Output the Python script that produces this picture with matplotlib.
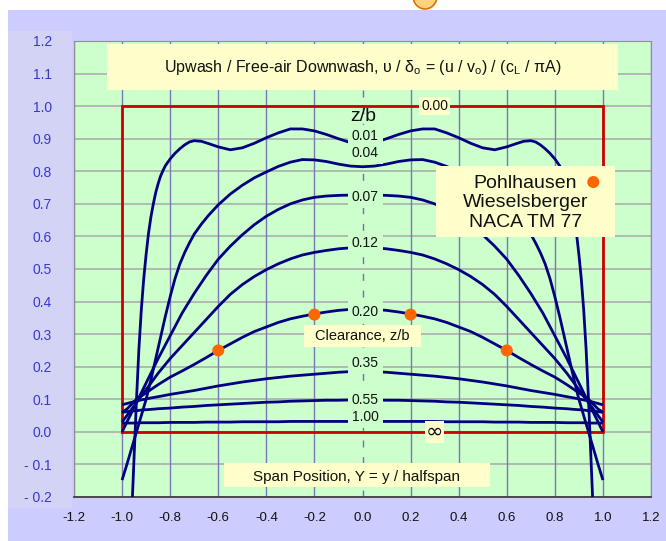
import numpy as np
import matplotlib
matplotlib.use("Agg")
import matplotlib.pyplot as plt
from matplotlib.patches import Rectangle, Ellipse

plt.rcParams['font.family'] = ['Liberation Sans', 'DejaVu Sans']
plt.rcParams['mathtext.fontset'] = 'custom'
plt.rcParams['mathtext.rm'] = 'Liberation Sans'
plt.rcParams['mathtext.it'] = 'Liberation Sans:italic'

nan = np.nan

# span positions (Y = y / halfspan)
span = [-1.0, -0.98, -0.96, -0.94, -0.92, -0.90, -0.88, -0.85, -0.80, -0.75, -0.70, -0.65,
        -0.60, -0.55, -0.50, -0.45, -0.40, -0.35, -0.30, -0.25, -0.20, -0.15, -0.10, -0.05,
        0.0, 0.05, 0.10, 0.15, 0.20, 0.25, 0.30, 0.35, 0.40, 0.45, 0.50, 0.55, 0.60, 0.65,
        0.70, 0.75, 0.80, 0.85, 0.88, 0.90, 0.92, 0.94, 0.96, 0.98, 1.0]

# z/b = 0.01 and 0.04 are steep near the tips, read on a finer span list
span_001 = [-0.957, -0.95, -0.94, -0.93, -0.92, -0.91, -0.90, -0.89, -0.88, -0.87, -0.86, -0.85,
            -0.84, -0.83, -0.82, -0.80, -0.78, -0.76, -0.74, -0.72, -0.70, -0.67, -0.64, -0.60,
            -0.55, -0.50, -0.45, -0.40, -0.35, -0.30, -0.25, -0.20, -0.15, -0.10, -0.05, 0.0,
            0.05, 0.10, 0.15, 0.20, 0.25, 0.30, 0.35, 0.40, 0.45, 0.50, 0.55, 0.60, 0.64, 0.67,
            0.70, 0.72, 0.74, 0.76, 0.78, 0.80, 0.82, 0.83, 0.84, 0.85, 0.86, 0.87, 0.88, 0.89,
            0.90, 0.91, 0.92, 0.93, 0.94, 0.95, 0.957]
zb_001 = [-0.20, -0.076, 0.10, 0.255, 0.375, 0.47, 0.545, 0.61, 0.66, 0.70, 0.735, 0.762,
          0.785, 0.802, 0.817, 0.838, 0.855, 0.869, 0.881, 0.89, 0.894, 0.892, 0.885, 0.875,
          0.866, 0.872, 0.886, 0.903, 0.918, 0.93, 0.93, 0.924, 0.913, 0.90, 0.888, 0.882,
          0.888, 0.90, 0.913, 0.924, 0.93, 0.93, 0.918, 0.903, 0.886, 0.872, 0.866, 0.875, 0.885, 0.892,
          0.894, 0.89, 0.881, 0.869, 0.855, 0.838, 0.817, 0.802, 0.785, 0.762, 0.735, 0.70, 0.66, 0.61,
          0.545, 0.47, 0.375, 0.255, 0.10, -0.076, -0.20]

span_004 = [-1.0, -0.98, -0.96, -0.94, -0.92, -0.90, -0.88, -0.86, -0.84, -0.82, -0.80, -0.78,
            -0.76, -0.74, -0.72, -0.70, -0.67, -0.64, -0.60, -0.55, -0.50, -0.45, -0.40, -0.35,
            -0.30, -0.25, -0.20, -0.15, -0.10, -0.05, 0.0,
            0.05, 0.10, 0.15, 0.20, 0.25, 0.30, 0.35, 0.40, 0.45, 0.50, 0.55, 0.60, 0.64, 0.67,
            0.70, 0.72, 0.74, 0.76, 0.78, 0.80, 0.82, 0.84, 0.86, 0.88, 0.90, 0.92, 0.94, 0.96,
            0.98, 1.0]
zb_004 = [-0.148, -0.10, -0.05, 0.0, 0.05, 0.10, 0.16, 0.225, 0.29, 0.355, 0.415, 0.47,
          0.515, 0.55, 0.58, 0.607, 0.638, 0.665, 0.697, 0.73, 0.757, 0.78, 0.798, 0.815,
          0.828, 0.836, 0.835, 0.83, 0.822, 0.816, 0.814,
          0.816, 0.822, 0.83, 0.835, 0.836, 0.828, 0.815, 0.798, 0.78, 0.757, 0.73, 0.697, 0.665, 0.638,
          0.607, 0.58, 0.55, 0.515, 0.47, 0.415, 0.355, 0.29, 0.225, 0.16, 0.10, 0.05, 0.0, -0.05,
          -0.10, -0.148]

zb_007 = [0.0, 0.03, 0.06, 0.09, 0.12, 0.15, 0.18, 0.225, 0.295, 0.365, 0.425, 0.48, 0.53,
          0.57, 0.605, 0.636, 0.662, 0.683, 0.70, 0.712, 0.72, 0.724, 0.726, 0.727, 0.727,
          0.727, 0.726, 0.724, 0.72, 0.712, 0.70, 0.683, 0.662, 0.636, 0.605, 0.57, 0.53,
          0.48, 0.425, 0.365, 0.295, 0.225, 0.18, 0.15, 0.12, 0.09, 0.06, 0.03, 0.0]
zb_012 = [0.03, 0.05, 0.07, 0.09, 0.11, 0.13, 0.15, 0.18, 0.225, 0.265, 0.305, 0.345, 0.385,
          0.422, 0.452, 0.477, 0.498, 0.516, 0.531, 0.543, 0.551, 0.557, 0.562, 0.565, 0.566,
          0.565, 0.562, 0.557, 0.551, 0.543, 0.531, 0.516, 0.498, 0.477, 0.452, 0.422, 0.385,
          0.345, 0.305, 0.265, 0.225, 0.18, 0.15, 0.13, 0.11, 0.09, 0.07, 0.05, 0.03]
zb_020 = [0.06, 0.07, 0.085, 0.10, 0.11, 0.12, 0.13, 0.145, 0.168, 0.187, 0.207, 0.228, 0.25,
          0.27, 0.29, 0.308, 0.322, 0.336, 0.347, 0.355, 0.362, 0.368, 0.373, 0.376, 0.378,
          0.376, 0.373, 0.368, 0.362, 0.355, 0.347, 0.336, 0.322, 0.308, 0.29, 0.27, 0.25,
          0.228, 0.207, 0.187, 0.168, 0.145, 0.13, 0.12, 0.11, 0.10, 0.085, 0.07, 0.06]
zb_035 = [0.083, 0.087, 0.091, 0.095, 0.098, 0.101, 0.104, 0.108, 0.115, 0.121, 0.127, 0.134,
          0.141, 0.147, 0.153, 0.158, 0.163, 0.167, 0.171, 0.174, 0.177, 0.18, 0.183, 0.185,
          0.187, 0.185, 0.183, 0.18, 0.177, 0.174, 0.171, 0.167, 0.163, 0.158, 0.153, 0.147,
          0.141, 0.134, 0.127, 0.121, 0.115, 0.108, 0.104, 0.101, 0.098, 0.095, 0.091, 0.087, 0.083]
zb_055 = [0.060, 0.062, 0.064, 0.065, 0.067, 0.068, 0.069, 0.071, 0.073, 0.076, 0.078, 0.081,
          0.083, 0.085, 0.087, 0.089, 0.091, 0.092, 0.094, 0.095, 0.096, 0.097, 0.097, 0.098,
          0.098, 0.098, 0.097, 0.097, 0.096, 0.095, 0.094, 0.092, 0.091, 0.089, 0.087, 0.085,
          0.083, 0.081, 0.078, 0.076, 0.073, 0.071, 0.069, 0.068, 0.067, 0.065, 0.064, 0.062, 0.060]
zb_100 = [0.027, 0.027, 0.027, 0.027, 0.028, 0.028, 0.028, 0.028, 0.029, 0.029, 0.029, 0.030,
          0.030, 0.030, 0.031, 0.031, 0.031, 0.031, 0.032, 0.032, 0.032, 0.032, 0.032, 0.032,
          0.032, 0.032, 0.032, 0.032, 0.032, 0.032, 0.032, 0.031, 0.031, 0.031, 0.031, 0.030,
          0.030, 0.030, 0.029, 0.029, 0.029, 0.028, 0.028, 0.028, 0.028, 0.027, 0.027, 0.027, 0.027]

curves = [(span_001, zb_001), (span_004, zb_004), (span, zb_007), (span, zb_012),
          (span, zb_020), (span, zb_035), (span, zb_055), (span, zb_100)]
curve_labels = ['0.01', '0.04', '0.07', '0.12', '0.20', '0.35', '0.55', '1.00']
label_y = [0.908, 0.857, 0.721, 0.58, 0.368, 0.212, 0.098, 0.046]

# z/b = 0 (box top) and z/b = infinity (zero line)
box_x = [-1.0, -1.0, 1.0, 1.0, -1.0]
box_y = [0.0, 1.0, 1.0, 0.0, 0.0]

# Pohlhausen / Wieselsberger points
pts_x = [-0.6, -0.2, 0.2, 0.6]
pts_y = [0.25, 0.36, 0.36, 0.25]

x_ticks = [-1.2, -1.0, -0.8, -0.6, -0.4, -0.2, 0.0, 0.2, 0.4, 0.6, 0.8, 1.0, 1.2]
y_ticks = [-0.2, -0.1, 0.0, 0.1, 0.2, 0.3, 0.4, 0.5, 0.6, 0.7, 0.8, 0.9, 1.0, 1.1, 1.2]
y_ticklabels = ['- 0.2', '- 0.1', '0.0', '0.1', '0.2', '0.3', '0.4', '0.5', '0.6', '0.7',
                '0.8', '0.9', '1.0', '1.1', '1.2']

navy = '#000080'
red = '#CC0000'
plot_bg = '#CCFFCC'
yellow = '#FFFFCC'
orange = '#FF6600'

fig = plt.figure(figsize=(6.66, 5.41), dpi=100)
fig.patch.set_facecolor('white')
# lavender frame and lighter panel behind y labels
fig.patches.append(Rectangle((8 / 666, 0), 1, 531 / 541, transform=fig.transFigure,
                             facecolor='#CCCCFF', edgecolor='none', zorder=-10))
fig.patches.append(Rectangle((8 / 666, 33 / 541), 64 / 666, 477 / 541, transform=fig.transFigure,
                             facecolor='#D3D3F6', edgecolor='none', zorder=-9))
fig.patches.append(Ellipse((425 / 666, 545 / 541), 24 / 666, 26 / 541, transform=fig.transFigure,
                           facecolor='#FFD27F', edgecolor='#E07000', lw=1.2, zorder=-8))

ax = fig.add_axes([74 / 666, 44 / 541, 577 / 666, 456 / 541])
ax.set_facecolor(plot_bg)
ax.set_xlim(-1.2, 1.2)
ax.set_ylim(-0.2, 1.2)

# grid
for yv in y_ticks:
    ax.axhline(yv, color='#A8A8A8', lw=1.1, zorder=1)
for xv in x_ticks:
    if xv == 0.0:
        ax.axvline(xv, color='#7070B8', lw=1.0, ls=(0, (5, 7)), zorder=1)
    else:
        ax.axvline(xv, color='#7878B8', lw=1.0, zorder=1)

ax.plot(box_x, box_y, color=red, lw=2.0, zorder=3, solid_joinstyle='miter')
for xs, yv in curves:
    ax.plot(xs, yv, color=navy, lw=2.0, zorder=4, solid_capstyle='butt')
ax.scatter(pts_x, pts_y, s=75, color=orange, zorder=5, edgecolors='none')

for lab, yl in zip(curve_labels, label_y):
    ax.text(0.012, yl, lab, ha='center', va='center', fontsize=10, color='#111111', zorder=6,
            bbox=dict(boxstyle='square,pad=0.3', fc=plot_bg, ec='none'))
ax.text(0.30, 1.0, '0.00', ha='center', va='center', fontsize=10, color='#111111', zorder=6,
        bbox=dict(boxstyle='square,pad=0.12', fc=yellow, ec='none'))
ax.text(0.30, 0.0, '∞', ha='center', va='center', fontsize=15, color='#111111', zorder=6,
        family='DejaVu Sans',
        bbox=dict(boxstyle='square,pad=0.05', fc=yellow, ec='none'))
ax.text(0.004, 0.969, 'z/b', ha='center', va='center', fontsize=14, color='#111111', zorder=6)

# title box
ax.add_patch(Rectangle((-1.064, 1.049), 2.128, 0.141, facecolor=yellow, edgecolor='none', zorder=6))
ax.text(0.0, 1.118, 'Upwash / Free-air Downwash, υ / δ$_{\\mathrm{o}}$ = (u / v$_{\\mathrm{o}}$) / (c$_{\\mathrm{L}}$ / πA)',
        ha='center', va='center', fontsize=11.5, color='#111111', zorder=7)

# source box
ax.add_patch(Rectangle((0.304, 0.598), 0.748, 0.218, facecolor=yellow, edgecolor='none', zorder=6))
ax.text(0.678, 0.703, 'Pohlhausen\nWieselsberger\nNACA TM 77', ha='center', va='center',
        fontsize=14, linespacing=1.2, color='#111111', zorder=7)
ax.scatter([0.96], [0.767], s=75, color=orange, zorder=8, edgecolors='none', clip_on=False)

# clearance box
ax.add_patch(Rectangle((-0.245, 0.261), 0.49, 0.067, facecolor=yellow, edgecolor='none', zorder=6))
ax.text(0.0, 0.294, 'Clearance, z/b', ha='center', va='center', fontsize=10.5,
        color='#111111', zorder=7)

# span axis box
ax.add_patch(Rectangle((-0.578, -0.169), 1.11, 0.074, facecolor=yellow, edgecolor='none', zorder=6))
ax.text(-0.025, -0.138, 'Span Position, Y = y / halfspan', ha='center', va='center',
        fontsize=11, color='#111111', zorder=7)

ax.set_xticks(x_ticks)
ax.set_xticklabels(['%.1f' % v for v in x_ticks], fontsize=9.5, color='#111111')
ax.set_yticks(y_ticks)
ax.set_yticklabels(y_ticklabels, fontsize=10, color='#3838D0')
ax.tick_params(axis='x', length=0, pad=11)
ax.tick_params(axis='y', length=0, pad=16)
for s in ['left', 'top', 'right']:
    ax.spines[s].set_color('#909090')
ax.spines['bottom'].set_color('#404040')
ax.spines['bottom'].set_linewidth(1.3)

fig.savefig('out.png', dpi=100)
